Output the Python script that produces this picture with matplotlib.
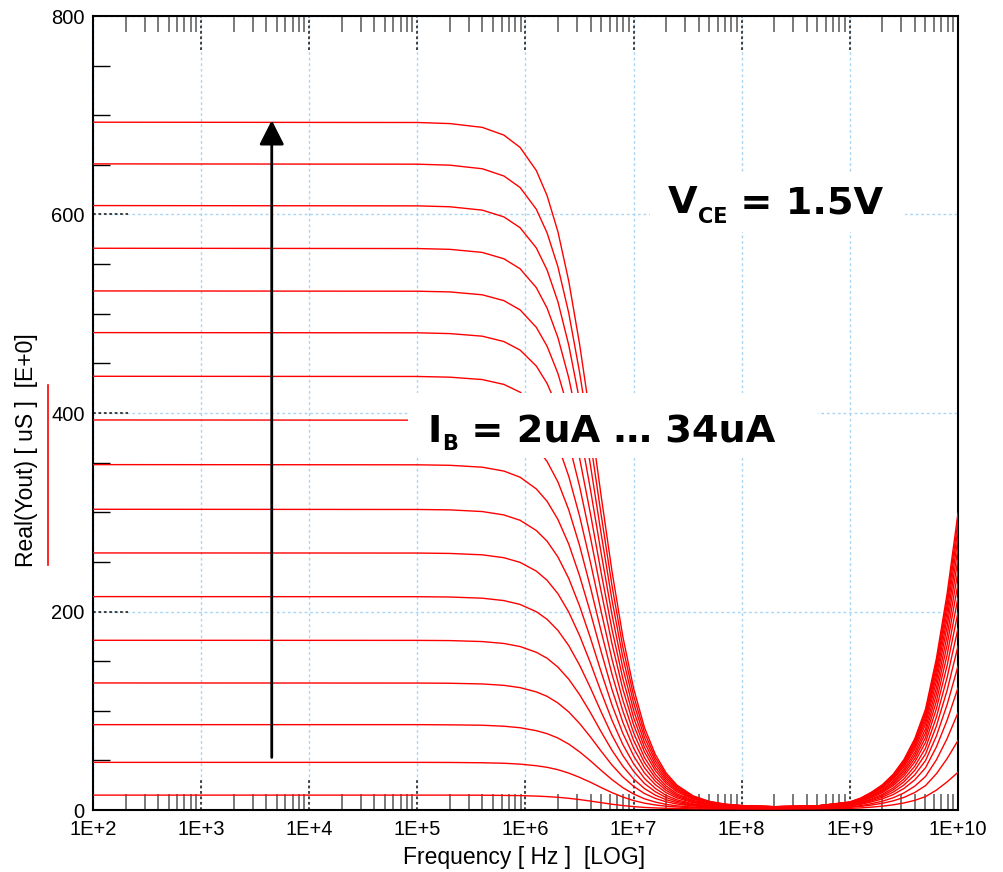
import numpy as np
import matplotlib
matplotlib.use("Agg")
import matplotlib.pyplot as plt
from matplotlib.transforms import blended_transform_factory
from matplotlib.ticker import FixedLocator, FuncFormatter, NullFormatter, LogLocator, MultipleLocator
from matplotlib.lines import Line2D
from matplotlib.patches import Rectangle

# ---------------- data ----------------
log_freq = [2.0, 5.0, 5.3, 5.6, 5.8, 5.95, 6.1, 6.2, 6.3, 6.4, 6.5, 6.6, 6.7, 6.8, 6.9,
            7.0, 7.1, 7.2, 7.3, 7.4, 7.55, 7.7, 7.85, 8.0, 8.3, 8.7, 9.0, 9.1, 9.2,
            9.3, 9.4, 9.5, 9.6, 9.7, 9.8, 9.9, 10.0]

ib_uA = [2, 4, 6, 8, 10, 12, 14, 16, 18, 20, 22, 24, 26, 28, 30, 32, 34]

yout_02uA = [15, 15.0, 15.0, 14.9, 14.7, 14.5, 14.0, 13.5, 12.8, 11.8, 10.5, 9.0, 7.4, 5.8, 4.5,
             3.4, 2.6, 2.1, 1.7, 1.45, 1.2, 1.1, 1.05, 1.0, 1.0, 1.15, 1.65, 2.1, 2.9,
             3.85, 5.2, 7.1, 9.7, 13.5, 20, 28.4, 38]
yout_04uA = [48, 48.0, 47.9, 47.6, 47.1, 46.2, 44.6, 43.0, 40.6, 37.2, 32.9, 28.0, 22.6, 17.5, 13.1,
             9.5, 6.9, 5.1, 3.8, 3.0, 2.3, 1.9, 1.7, 1.6, 1.5, 1.8, 2.7, 3.6, 5.0,
             6.75, 9.2, 12.7, 17.6, 24.6, 36.5, 51.9, 70]
yout_06uA = [86, 86.0, 85.8, 85.4, 84.4, 82.9, 79.9, 76.9, 72.5, 66.4, 58.6, 49.6, 39.9, 30.6, 22.5,
             16.1, 11.3, 8.0, 5.7, 4.2, 2.9, 2.2, 1.9, 1.7, 1.55, 1.9, 3.2, 4.4, 6.4,
             8.85, 12.3, 17.2, 24.0, 33.8, 50.5, 72.1, 98]
yout_08uA = [128, 127.9, 127.7, 127.0, 125.6, 123.3, 119.0, 114.5, 107.8, 98.8, 87.2, 73.7, 59.2, 45.3, 33.4,
             23.8, 16.6, 11.7, 8.3, 6.05, 4.05, 3.05, 2.5, 2.3, 2.05, 2.5, 4.1, 5.7, 8.15,
             11.2, 15.5, 21.7, 30.3, 42.6, 63.5, 90.6, 123]
yout_10uA = [171, 170.9, 170.7, 169.7, 167.8, 164.7, 158.9, 152.9, 143.9, 131.8, 116.3, 98.2, 78.7, 60.1, 44.1,
             31.2, 21.6, 15.0, 10.4, 7.4, 4.8, 3.4, 2.7, 2.4, 2.1, 2.6, 4.5, 6.35, 9.25,
             12.9, 17.95, 25.2, 35.35, 49.85, 74.5, 106.4, 145]
yout_12uA = [215, 214.9, 214.6, 213.4, 211.0, 207.1, 199.8, 192.1, 180.9, 165.6, 146.0, 123.2, 98.7, 75.3, 55.0,
             38.9, 26.7, 18.4, 12.6, 8.8, 5.5, 3.8, 2.9, 2.45, 2.1, 2.7, 4.8, 6.95, 10.25,
             14.4, 20.15, 28.4, 39.95, 56.45, 84.5, 120.8, 165]
yout_14uA = [259, 258.9, 258.5, 257.1, 254.2, 249.5, 240.7, 231.4, 217.9, 199.4, 175.8, 148.3, 118.7, 90.4, 66.0,
             46.5, 31.8, 21.8, 14.8, 10.25, 6.2, 4.1, 3.1, 2.55, 2.15, 2.7, 5.1, 7.5, 11.15,
             15.7, 22.1, 31.3, 44.1, 62.4, 93.5, 133.8, 183]
yout_16uA = [303, 302.8, 302.4, 300.7, 297.3, 291.9, 281.6, 270.8, 254.9, 233.3, 205.6, 173.5, 139.0, 105.8, 77.3,
             54.5, 37.3, 25.6, 17.5, 12.15, 7.4, 5.0, 3.8, 3.1, 2.65, 3.3, 5.9, 8.5, 12.45,
             17.4, 24.4, 34.3, 48.3, 68.2, 102, 145.8, 199]
yout_18uA = [348, 347.8, 347.3, 345.4, 341.5, 335.3, 323.5, 311.0, 292.7, 267.9, 236.0, 199.1, 159.4, 121.3, 88.5,
             62.3, 42.6, 29.1, 19.8, 13.6, 8.1, 5.4, 3.95, 3.2, 2.7, 3.4, 6.1, 8.9, 13.2,
             18.55, 26.0, 36.7, 51.7, 73.1, 109.5, 156.6, 214]
yout_20uA = [393, 392.8, 392.2, 390.1, 385.6, 378.6, 365.3, 351.1, 330.5, 302.4, 266.5, 224.7, 179.8, 136.8, 99.8,
             70.1, 47.8, 32.5, 22.0, 15.0, 8.9, 5.7, 4.15, 3.3, 2.7, 3.4, 6.4, 9.3, 13.9,
             19.6, 27.6, 39.0, 54.9, 77.7, 116.5, 166.7, 228]
yout_22uA = [437, 436.8, 436.1, 433.7, 428.8, 421.0, 406.2, 390.4, 367.5, 336.2, 296.2, 249.8, 199.8, 151.9, 110.7,
             77.7, 52.9, 35.9, 24.2, 16.4, 9.6, 6.1, 4.3, 3.4, 2.7, 3.5, 6.6, 9.7, 14.55,
             20.6, 29.0, 41.1, 57.9, 82.0, 123, 176, 241]
yout_24uA = [481, 480.8, 480.0, 477.4, 472.0, 463.4, 447.3, 429.7, 404.5, 370.1, 326.2, 275.0, 220.0, 167.5, 122.0,
             85.7, 58.5, 39.8, 26.85, 18.3, 10.8, 7.0, 5.0, 4.0, 3.25, 4.0, 7.3, 10.6, 15.65,
             22.0, 30.8, 43.5, 61.2, 86.5, 129.5, 185.2, 253]
yout_26uA = [523, 522.7, 522.0, 519.1, 513.2, 503.9, 486.3, 467.2, 439.8, 402.4, 354.5, 298.9, 239.0, 181.9, 132.5,
             93.0, 63.3, 43.0, 28.95, 19.7, 11.5, 7.3, 5.2, 4.1, 3.3, 4.1, 7.5, 10.9, 16.2,
             22.8, 32.0, 45.2, 63.7, 90.1, 135, 193, 264]
yout_28uA = [566, 565.7, 564.9, 561.8, 555.4, 545.3, 526.3, 505.6, 475.9, 435.4, 383.6, 323.4, 258.6, 196.7, 143.2,
             100.4, 68.3, 46.3, 31.1, 21.1, 12.2, 7.7, 5.4, 4.2, 3.3, 4.1, 7.7, 11.2, 16.7,
             23.55, 33.1, 46.8, 66.0, 93.4, 140, 200.3, 274]
yout_30uA = [609, 608.7, 607.8, 604.4, 597.6, 586.7, 566.3, 544.0, 512.0, 468.4, 412.7, 347.8, 278.1, 211.5, 153.9,
             107.8, 73.3, 49.6, 33.2, 22.4, 12.9, 8.0, 5.55, 4.3, 3.3, 4.1, 7.8, 11.5, 17.15,
             24.2, 34.1, 48.3, 68.1, 96.4, 144.5, 206.8, 283]
yout_32uA = [651, 650.7, 649.7, 646.1, 638.8, 627.2, 605.3, 581.4, 547.3, 500.7, 441.1, 371.7, 297.2, 226.0, 164.3,
             115.1, 78.2, 52.8, 35.3, 23.8, 13.6, 8.4, 5.7, 4.4, 3.3, 4.2, 7.95, 11.7, 17.55,
             24.8, 35.0, 49.6, 69.9, 99.0, 148.5, 212.5, 291]
yout_34uA = [693, 692.7, 691.6, 687.8, 680.0, 667.6, 644.3, 618.9, 582.6, 532.9, 469.5, 395.6, 316.2, 240.4, 174.8,
             122.4, 83.1, 56.1, 37.4, 25.1, 14.25, 8.7, 5.9, 4.5, 3.35, 4.2, 8.1, 12.0, 17.95,
             25.4, 35.9, 50.8, 71.8, 101.7, 152.5, 218.3, 299]

curves = [yout_02uA, yout_04uA, yout_06uA, yout_08uA, yout_10uA, yout_12uA,
          yout_14uA, yout_16uA, yout_18uA, yout_20uA, yout_22uA, yout_24uA,
          yout_26uA, yout_28uA, yout_30uA, yout_32uA, yout_34uA]

x_decades = [1e2, 1e3, 1e4, 1e5, 1e6, 1e7, 1e8, 1e9, 1e10]
y_ticks = [0, 200, 400, 600, 800]

arrow_freq = 4.5e3
arrow_y = (53, 695)

# ---------------- figure ----------------
W, H = 1004, 872
fig = plt.figure(figsize=(W / 100, H / 100), dpi=100)
fig.patch.set_facecolor("white")
ax = fig.add_axes([93 / W, 62 / H, 865 / W, 794 / H])

tick_font = "Liberation Sans"

freq = np.power(10.0, np.array(log_freq))
for vals in curves:
    assert len(vals) == len(log_freq)
    ax.plot(freq, vals, color="#ff0000", lw=1.0, zorder=3)

ax.set_xscale("log")
ax.set_xlim(x_decades[0], x_decades[-1])
ax.set_ylim(y_ticks[0], y_ticks[-1])

# grid
ax.set_axisbelow(True)
ax.xaxis.set_major_locator(FixedLocator(x_decades))
ax.xaxis.set_major_formatter(FuncFormatter(lambda v, p: "1E+%d" % int(round(np.log10(v)))))
ax.xaxis.set_minor_locator(LogLocator(base=10, subs=np.arange(2, 10)))
ax.xaxis.set_minor_formatter(NullFormatter())
ax.yaxis.set_major_locator(FixedLocator(y_ticks))
ax.yaxis.set_minor_locator(MultipleLocator(50))
ax.grid(True, which="major", color="#a9d6f5", linestyle=(0, (2, 2)), lw=1.0, zorder=1)

ax.tick_params(axis="x", which="minor", direction="in", length=11.5, width=1.1,
               color="#555555", top=True, bottom=True)
ax.tick_params(axis="x", which="major", length=0, pad=7, labelsize=14.5)
ax.tick_params(axis="y", which="minor", direction="in", length=12.5, width=1.0,
               color="black", left=True, right=False)
ax.tick_params(axis="y", which="major", length=0, pad=6, labelsize=14.5)
for lab in ax.get_xticklabels() + ax.get_yticklabels():
    lab.set_fontfamily(tick_font)

for sp in ax.spines.values():
    sp.set_linewidth(1.5)
    sp.set_color("black")

# dotted major tick marks
bx = blended_transform_factory(ax.transData, ax.transAxes)
by = blended_transform_factory(ax.transAxes, ax.transData)
for d in x_decades[1:-1]:
    ax.plot([d, d], [0, 30 / 794], transform=bx, color="#333333", lw=1.3,
            ls=(0, (1.5, 1.5)), zorder=2)
    ax.plot([d, d], [1 - 34 / 794, 1], transform=bx, color="#333333", lw=1.3,
            ls=(0, (1.5, 1.5)), zorder=2)
for v in y_ticks[1:-1]:
    ax.plot([0, 35 / 865], [v, v], transform=by, color="#333333", lw=1.3,
            ls=(0, (1.5, 1.5)), zorder=2)

# arrow
ax.annotate("", xy=(arrow_freq, arrow_y[1]), xytext=(arrow_freq, arrow_y[0]),
            arrowprops=dict(arrowstyle="-|>,head_length=0.75,head_width=0.38",
                            mutation_scale=20, color="black", lw=2.0,
                            shrinkA=0, shrinkB=0), zorder=4)

# axis labels
fig.text(524 / W, 1 - 864 / H, "Frequency [ Hz ]  [LOG]", ha="center", va="baseline",
         fontsize=16.5, family=tick_font)
fig.text(38 / W, 1 - 567 / H, "Real(Yout) [ uS ]  [E+0]", rotation=90, ha="right",
         va="bottom", fontsize=16.5, family=tick_font)
fig.add_artist(Line2D([48 / W, 48 / W], [1 - 565 / H, 1 - 385 / H], color="#ff0000",
                      lw=1.2, transform=fig.transFigure))

# rich annotation texts with white boxes
fig.canvas.draw()
renderer = fig.canvas.get_renderer()


def rich(x_px, base_px, parts, box):
    bx0, by0, bx1, by1 = box
    fig.add_artist(Rectangle((bx0 / W, 1 - by1 / H), (bx1 - bx0) / W, (by1 - by0) / H,
                             transform=fig.transFigure, facecolor="white",
                             edgecolor="none", zorder=5))
    x = x_px
    for txt, size, dy in parts:
        t = fig.text(x / W, 1 - (base_px + dy) / H, txt, fontsize=size,
                     fontweight="bold", family="DejaVu Sans", ha="left",
                     va="baseline", zorder=6)
        ext = t.get_window_extent(renderer)
        x += ext.width


rich(668, 213, [("V", 27.5, 0), ("CE", 15, 10), (" = 1.5V", 27.5, 0)],
     (650, 172, 905, 232))
rich(428, 442, [("I", 27.5, 0), ("B", 15, 8), (" = 2uA \u2026 34uA", 27.5, 0)],
     (408, 393, 818, 458))

fig.savefig("out.png", dpi=100)
